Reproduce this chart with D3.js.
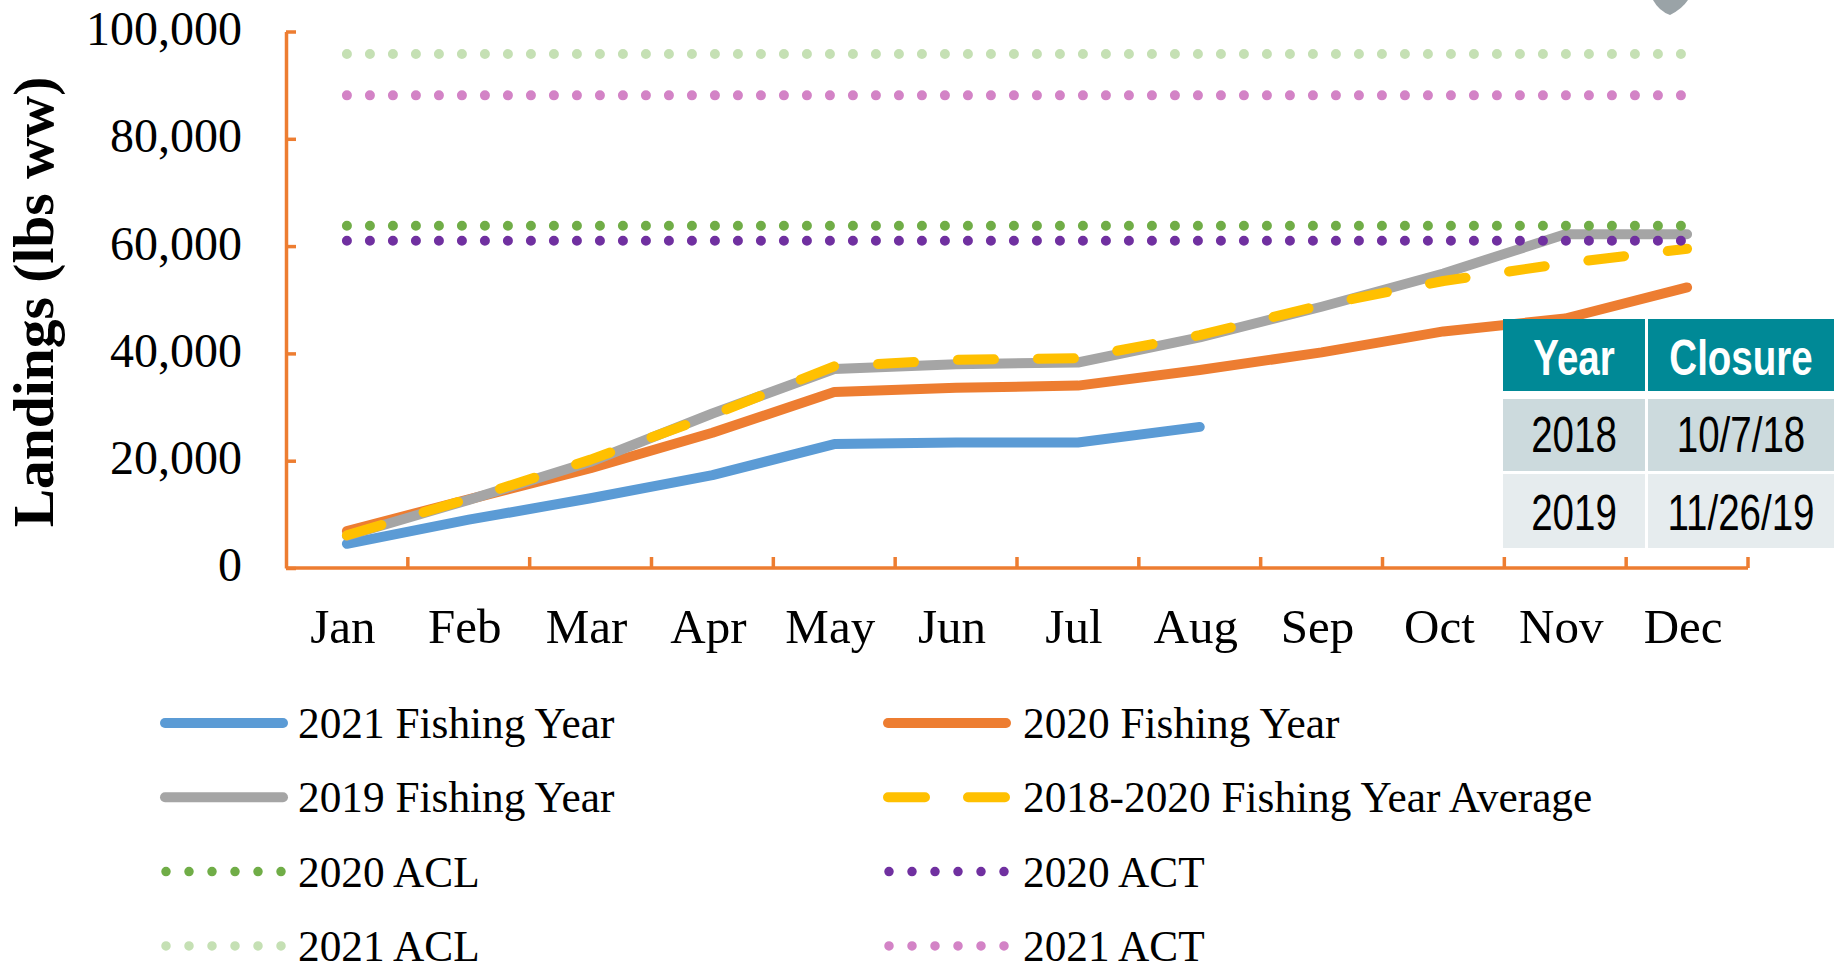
<!DOCTYPE html>
<meta charset="utf-8" />
<style>
    body { margin: 0; background: #fff; }
    text { font-family: "Liberation Serif", "Times New Roman", serif; fill: #000; }
    .tbl text { font-family: "Liberation Sans", Arial, sans-serif; }
</style>
<title>Landings</title>
<body></body>
<script src="https://d3js.org/d3.v7.min.js"></script>
<script>

    // monthly cumulative landings (lbs ww)
    var months = ["Jan", "Feb", "Mar", "Apr", "May", "Jun", "Jul", "Aug", "Sep", "Oct", "Nov", "Dec"];
    var fy2021 = [4500, 9000, 13000, 17300, 23100, 23400, 23400, 26300];
    var fy2020 = [6900, 12800, 18600, 25200, 32800, 33600, 34000, 36900, 40200, 44100, 46500, 52300];
    var fy2019 = [6000, 12700, 19800, 28800, 37100, 38000, 38300, 43000, 48700, 54900, 62200, 62200];
    var fyAvg = [6100, 12900, 20200, 28500, 37600, 38800, 39100, 43400, 49000, 53500, 56800, 59500];

    // catch limits
    var limitNames = ["2020 ACL", "2020 ACT", "2021 ACL", "2021 ACT"];
    var limitValues = [63800, 61000, 95800, 88100];

    var yTicks = [0, 20000, 40000, 60000, 80000, 100000];

    // closure table
    var tableHeader = ["Year", "Closure"];
    var tableRows = [["2018", "10/7/18"], ["2019", "11/26/19"]];

    var svgWidth = 1834;
    var svgHeight = 968;
    var axisColor = "#ED7D31";

    var svg = d3.select("body")
        .append("svg")
        .attr("width", svgWidth)
        .attr("height", svgHeight)
        .style("background", "#fff");

    var x = d3.scaleBand()
        .domain(months)
        .range([286, 1748])
        .padding(0);

    var y = d3.scaleLinear()
        .domain([0, 100000])
        .range([568, 31.5]);

    var cx = function (i) { return x(months[i]) + x.bandwidth() / 2; };

    // series styles
    var series = [
        { name: "2021 Fishing Year", values: fy2021, color: "#5B9BD5", dash: null },
        { name: "2020 Fishing Year", values: fy2020, color: "#ED7D31", dash: null },
        { name: "2019 Fishing Year", values: fy2019, color: "#A5A5A5", dash: null },
        { name: "2018-2020 Fishing Year Average", values: fyAvg, color: "#FFC000", dash: "36 44" }
    ];
    var limitColors = ["#70AD47", "#7030A0", "#C5E0B4", "#D383C6"];
    var limits = limitNames.map(function (n, i) {
        return { name: n, value: limitValues[i], color: limitColors[i] };
    });

    // y axis (ticks point inward)
    var yAxis = d3.axisLeft(y)
        .tickValues(yTicks)
        .tickFormat(d3.format(","))
        .tickSizeInner(-10)
        .tickSizeOuter(0)
        .tickPadding(44);

    var gy = svg.append("g")
        .attr("transform", "translate(286,0)")
        .call(yAxis);
    gy.select(".domain").attr("stroke", axisColor).attr("stroke-width", 3.5);
    gy.selectAll(".tick line").attr("stroke", axisColor).attr("stroke-width", 3.5);
    gy.selectAll(".tick text")
        .attr("font-size", 48)
        .attr("font-family", "Liberation Serif, Times New Roman, serif")
        .attr("dy", "0.27em");

    // x axis labels at band centres
    var xAxis = d3.axisBottom(x).tickSize(0).tickPadding(40);
    var gx = svg.append("g")
        .attr("transform", "translate(0,568)")
        .call(xAxis);
    gx.select(".domain").remove();
    gx.selectAll(".tick text")
        .attr("font-size", 49)
        .attr("font-family", "Liberation Serif, Times New Roman, serif")
        .attr("dx", -4);

    // x axis line and boundary ticks
    svg.append("line")
        .attr("x1", x.range()[0]).attr("x2", x.range()[1])
        .attr("y1", y(0)).attr("y2", y(0))
        .attr("stroke", axisColor).attr("stroke-width", 3.5);
    var bounds = months.slice(1).map(function (m) { return x(m); }).concat([x.range()[1]]);
    svg.selectAll(".xtick")
        .data(bounds)
        .enter().append("line")
        .attr("class", "xtick")
        .attr("x1", function (d) { return d; })
        .attr("x2", function (d) { return d; })
        .attr("y1", y(0))
        .attr("y2", y(0) - 11)
        .attr("stroke", axisColor).attr("stroke-width", 3.5);

    // y axis title
    svg.append("text")
        .attr("transform", "translate(53,302) rotate(-90)")
        .attr("text-anchor", "middle")
        .attr("font-size", 57.5)
        .attr("font-weight", "bold")
        .text("Landings (lbs ww)");

    // landings lines
    var line = d3.line()
        .x(function (d, i) { return cx(i); })
        .y(function (d) { return y(d); });

    svg.selectAll(".series")
        .data(series)
        .enter().append("path")
        .attr("class", "series")
        .attr("d", function (d) { return line(d.values); })
        .attr("fill", "none")
        .attr("stroke", function (d) { return d.color; })
        .attr("stroke-width", 10)
        .attr("stroke-linecap", "round")
        .attr("stroke-linejoin", "round")
        .attr("stroke-dasharray", function (d) { return d.dash; });

    // dotted limit lines
    svg.selectAll(".limit")
        .data(limits)
        .enter().append("line")
        .attr("class", "limit")
        .attr("x1", cx(0))
        .attr("x2", cx(months.length - 1))
        .attr("y1", function (d) { return y(d.value); })
        .attr("y2", function (d) { return y(d.value); })
        .attr("stroke", function (d) { return d.color; })
        .attr("stroke-width", 10)
        .attr("stroke-linecap", "round")
        .attr("stroke-dasharray", "0 23");

    // legend
    var legendItems = [
        { s: series[0], dots: false }, { s: series[1], dots: false },
        { s: series[2], dots: false }, { s: series[3], dots: false },
        { s: limits[0], dots: true }, { s: limits[1], dots: true },
        { s: limits[2], dots: true }, { s: limits[3], dots: true }
    ];
    var legend = svg.selectAll(".legend")
        .data(legendItems)
        .enter().append("g")
        .attr("class", "legend")
        .attr("transform", function (d, i) {
            return "translate(" + (i % 2 ? 883 : 160) + "," + (738 + Math.floor(i / 2) * 74.3) + ")";
        });

    legend.append("line")
        .attr("x1", function (d) { return d.dots ? 6 : 5; })
        .attr("x2", function (d) { return d.dots ? 122.5 : 123; })
        .attr("y1", -15).attr("y2", -15)
        .attr("stroke", function (d) { return d.s.color; })
        .attr("stroke-width", function (d) { return d.dots ? 9.5 : 10; })
        .attr("stroke-linecap", "round")
        .attr("stroke-dasharray", function (d) { return d.dots ? "0 23" : (d.s.dash ? "37 43" : null); });

    legend.append("text")
        .attr("x", function (d, i) { return i % 2 ? 140 : 138; })
        .attr("font-size", 43.3)
        .text(function (d) { return d.s.name; });

    // closure table
    var colX = [1503, 1648];
    var colW = [142, 188];
    var rowY = [319, 399, 474];
    var rowH = [72, 72, 74];
    var rowFill = ["#008996", "#CCDADD", "#E6ECEE"];
    var baseline = [375, 452, 530];

    var cells = [];
    [tableHeader].concat(tableRows).forEach(function (row, r) {
        row.forEach(function (v, c) { cells.push({ r: r, c: c, v: v }); });
    });

    var tbl = svg.append("g").attr("class", "tbl");
    tbl.selectAll("rect")
        .data(cells)
        .enter().append("rect")
        .attr("x", function (d) { return colX[d.c]; })
        .attr("y", function (d) { return rowY[d.r]; })
        .attr("width", function (d) { return colW[d.c]; })
        .attr("height", function (d) { return rowH[d.r]; })
        .attr("fill", function (d) { return rowFill[d.r]; });

    tbl.selectAll("text")
        .data(cells)
        .enter().append("text")
        .attr("transform", function (d) {
            return "translate(" + (colX[d.c] + colW[d.c] / 2 - (d.c ? 1 : 0)) + "," + baseline[d.r] + ") scale(1,1.28)";
        })
        .attr("text-anchor", "middle")
        .attr("font-size", 38.5)
        .attr("font-weight", function (d) { return d.r === 0 ? "bold" : "normal"; })
        .style("fill", function (d) { return d.r === 0 ? "#fff" : "#000"; })
        .text(function (d) { return d.v; });

    // cut-off logo fragment at top right
    svg.append("path")
        .attr("d", "M1653,0 L1688,0 Q1682,9 1670,15 Q1659,11 1653,0 Z")
        .attr("fill", "#9AA3A7");

</script>
